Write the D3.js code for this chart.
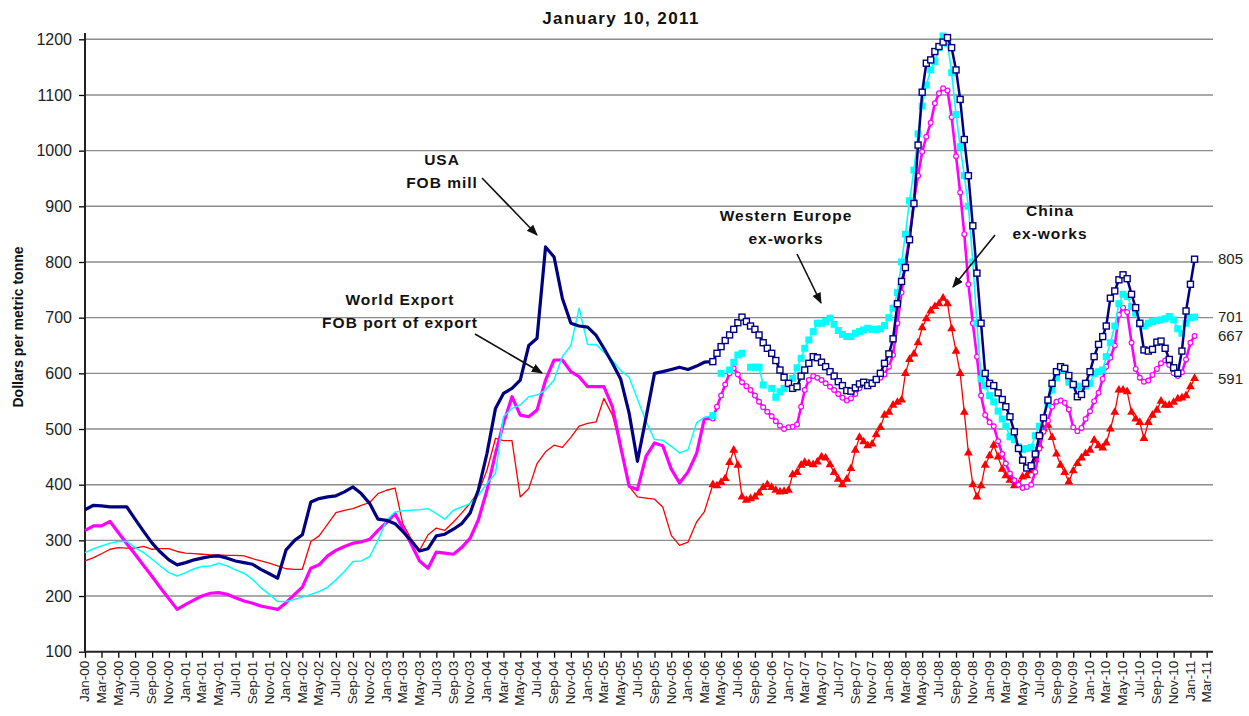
<!DOCTYPE html>
<html><head><meta charset="utf-8">
<script src="https://cdn.jsdelivr.net/npm/d3@7"></script>
<style>body{margin:0;background:#fff;} svg{display:block;font-family:"Liberation Sans",Arial,sans-serif;}</style>
</head><body><svg id="c" width="1249" height="716"></svg>
<script>
const title = "January 10, 2011";
const yTitle = "Dollars per metric tonne";
const yTicks = [100,200,300,400,500,600,700,800,900,1000,1100,1200];
// Monthly observations Jan-00 .. Mar-06 (75 months)
const monthlyCount = 75;
// Semi-monthly observations Apr-06 .. mid Jan-11 (116 points)
const semiCount = 116;

const usaMonthly = [355,363,362,360,360,360,338,316,295,279,
265,256,260,265,268,271,272,268,263,260,
257,248,240,232,283,300,310,369,375,378,
380,387,396,384,366,338,336,330,316,299,
281,285,308,311,320,330,349,391,456,537,
564,573,588,650,663,827,809,735,690,685,
683,668,645,618,590,528,442,520,600,603,
607,611,607,613,620];
const worldMonthly = [318,326,326,334,314,294,275,255,235,215,
195,176,185,193,200,205,206,203,197,191,
187,182,179,176,188,203,216,250,256,272,
282,289,295,297,302,318,332,348,322,293,
263,250,279,277,275,287,304,337,390,456,
510,558,525,522,534,588,624,624,603,594,
576,576,576,540,468,397,391,451,475,470,
428,403,423,456,518];
const chinaMonthly = [263,269,276,284,287,286,286,289,284,285,
285,280,277,276,275,274,274,273,273,272,
267,263,259,254,249,248,248,298,308,329,
350,354,357,363,368,384,390,394,330,302,
282,310,322,318,333,349,367,387,426,483,
479,479,378,393,438,459,471,467,485,505,
510,513,555,525,469,397,378,376,374,360,
309,291,297,333,351];
const europeMonthly = [278,285,290,295,298,298,287,278,266,254,
242,236,242,249,253,254,259,254,247,241,
230,215,203,190,190,194,198,203,208,216,
229,244,262,263,271,300,336,351,353,354,
355,357,348,338,354,360,366,381,402,420,
522,537,543,558,561,570,588,630,650,717,
652,652,638,623,605,593,554,514,481,480,
469,457,463,511,521];

const usaSemi = [621,636,648,659,669,679,691,701,693,685,
679,669,655,645,636,623,606,593,582,573,
576,595,606,618,630,628,620,612,603,595,
585,578,569,568,574,581,584,578,582,589,
600,618,635,662,725,765,790,840,905,1010,
1105,1157,1163,1178,1187,1195,1203,1185,1145,1092,
1020,955,865,780,690,600,582,578,565,553,
540,522,495,465,444,430,434,455,488,520,
552,582,603,612,609,596,580,558,562,582,
603,630,652,666,685,735,748,768,777,770,
742,718,690,642,640,643,656,658,645,625,
610,600,640,712,760,805];
const worldSemi = [519,540,560,580,600,609,598,584,577,570,
560,549,539,531,523,514,506,500,503,504,
508,540,570,588,595,592,588,582,576,570,
563,556,551,555,563,573,582,585,584,588,
592,598,612,633,690,745,800,845,910,955,
998,1025,1050,1085,1103,1112,1108,1060,990,925,
850,760,690,630,560,525,512,505,478,455,
438,420,408,400,394,396,400,423,465,495,
515,540,549,551,547,535,503,496,502,518,
532,550,565,590,612,628,650,705,718,710,
655,608,592,585,587,597,608,618,623,615,
600,595,602,625,655,667];
const chinaSemi = [400,398,404,411,440,462,435,378,372,375,
378,385,395,400,395,390,387,388,390,418,
422,435,440,438,436,441,450,448,436,422,
410,400,410,429,462,485,477,470,473,490,
503,525,530,543,548,552,600,625,635,655,
682,698,712,720,725,735,725,680,640,600,
530,457,400,378,398,435,452,471,450,428,
416,408,398,400,414,416,425,445,470,500,
507,485,455,435,422,405,425,438,448,456,
462,480,470,466,475,500,530,570,570,567,
530,518,512,483,512,525,534,550,543,543,
548,554,556,560,576,591];
const europeSemi = [524,null,600,null,606,620,633,636,null,611,
611,611,579,null,573,557,567,573,580,591,
610,627,645,660,675,690,690,693,699,688,
677,670,666,666,672,675,678,681,679,679,
680,686,700,717,745,800,850,910,965,1030,
1080,1118,1145,1160,1185,1206,1193,1140,1065,1007,
955,900,800,690,590,578,560,549,532,518,
505,486,481,468,463,465,467,488,505,520,
545,570,592,607,607,584,579,577,576,577,
582,600,603,606,630,655,685,725,742,738,
720,708,688,685,690,693,695,696,698,702,
696,680,672,690,700,701];

const endLabels = [
  {text:"805", value:805},
  {text:"701", value:701},
  {text:"667", value:667},
  {text:"591", value:591}
];
const notes = [
  {lines:["USA","FOB mill"], cx:442, y0:165, from:[482,178], to:[537,235]},
  {lines:["World Export","FOB port of export"], cx:400, y0:305, from:[475,334], to:[542,373]},
  {lines:["Western Europe","ex-works"], cx:786, y0:221, from:[797,254], to:[821,303]},
  {lines:["China","ex-works"], cx:1050, y0:216, from:[995,235], to:[953,287]}
];

const monthlyDates = d3.range(monthlyCount).map(i => new Date(2000, i, 1));
const semiDates = d3.range(semiCount).map(k => new Date(2000, 75 + Math.floor(k/2), (k % 2) ? 16 : 1));

const svg = d3.select("#c");
const x = d3.scaleTime().domain([new Date(2000,0,1), new Date(2011,2,24)]).range([85,1213]);
const y = d3.scaleLinear().domain([100,1200]).range([651.7,39.3]);

// gridlines
svg.append("g").selectAll("line").data(yTicks.filter(v=>v>100)).join("line")
  .attr("x1",85).attr("x2",1213).attr("y1",d=>y(d)).attr("y2",d=>y(d))
  .attr("stroke","#8c8c8c").attr("stroke-width",1.4);

// axes
const yAxis = d3.axisLeft(y).tickValues(yTicks).tickSize(6).tickPadding(7).tickFormat(d3.format("d"));
const gy = svg.append("g").attr("transform","translate(85,0)").call(yAxis);
gy.select(".domain").remove();
gy.selectAll("line").attr("stroke","#000").attr("stroke-width",1.3);
gy.selectAll("text").attr("font-size",16).attr("fill","#222").attr("font-family","Liberation Sans, Arial, sans-serif");
svg.append("line").attr("x1",85).attr("x2",85).attr("y1",33).attr("y2",652.5).attr("stroke","#222").attr("stroke-width",2);

const tickDates = d3.range(0, 135, 2).map(i => new Date(2000, i, 1));
const xAxis = d3.axisBottom(x).tickValues(tickDates).tickSize(6).tickFormat(d3.timeFormat("%b-%y"));
const gx = svg.append("g").attr("transform","translate(0,651.7)").call(xAxis);
gx.select(".domain").remove();
gx.selectAll("line").attr("stroke","#000").attr("stroke-width",1.3);
gx.selectAll("text").attr("font-size",13.5).attr("fill","#222").attr("font-family","Liberation Sans, Arial, sans-serif")
  .attr("transform","rotate(-90)").attr("text-anchor","end").attr("dy","0.35em").attr("x",-9).attr("y",-1);
svg.append("line").attr("x1",84).attr("x2",1213).attr("y1",651.7).attr("y2",651.7).attr("stroke","#222").attr("stroke-width",2);

// series
const series = [
  {m:chinaMonthly, s:chinaSemi, color:"#ff0000", wm:1.3, ws:1.3, marker:"tri"},
  {m:worldMonthly, s:worldSemi, color:"#ff00ff", wm:3.2, ws:2.6, marker:"circle"},
  {m:europeMonthly, s:europeSemi, color:"#00ffff", wm:1.5, ws:1.6, marker:"fsq"},
  {m:usaMonthly, s:usaSemi, color:"#000080", wm:3.2, ws:2.5, marker:"osq"}
];
const line = d3.line().defined(d => d.v != null).x(d => x(d.d)).y(d => y(d.v));
series.forEach(sr => {
  const mPts = sr.m.map((v,i)=>({d:monthlyDates[i], v}));
  const sPts = sr.s.map((v,i)=>({d:semiDates[i], v}));
  const join = sPts[0].v != null ? [...mPts, sPts[0]] : mPts;
  svg.append("path").datum(join).attr("d", line).attr("fill","none")
    .attr("stroke", sr.color).attr("stroke-width", sr.wm).attr("stroke-linejoin","round");
  svg.append("path").datum(sPts).attr("d", line).attr("fill","none")
    .attr("stroke", sr.color).attr("stroke-width", sr.ws).attr("stroke-linejoin","round");
  const pts = sPts.filter(p => p.v != null);
  const g = svg.append("g");
  if (sr.marker === "osq") {
    g.selectAll("rect").data(pts).join("rect")
      .attr("x", p => x(p.d)-3).attr("y", p => y(p.v)-3).attr("width",6).attr("height",6)
      .attr("fill","#fff").attr("stroke",sr.color).attr("stroke-width",1.4);
  } else if (sr.marker === "fsq") {
    g.selectAll("rect").data(pts).join("rect")
      .attr("x", p => x(p.d)-3.5).attr("y", p => y(p.v)-3.5).attr("width",7).attr("height",7)
      .attr("fill",sr.color);
  } else if (sr.marker === "circle") {
    g.selectAll("circle").data(pts).join("circle")
      .attr("cx", p => x(p.d)).attr("cy", p => y(p.v)).attr("r",2.4)
      .attr("fill","#fff").attr("stroke",sr.color).attr("stroke-width",1.2);
  } else {
    const sym = d3.symbol().type(d3.symbolTriangle).size(34);
    g.selectAll("path").data(pts).join("path")
      .attr("transform", p => `translate(${x(p.d)},${y(p.v)})`).attr("d", sym).attr("fill",sr.color);
  }
});

// title
svg.append("text").attr("x",621).attr("y",24).attr("text-anchor","middle")
  .attr("font-size",17).attr("font-weight","bold").attr("letter-spacing",1.4).attr("fill","#111").text(title);
svg.append("text").attr("transform","translate(23,327) rotate(-90)").attr("text-anchor","middle")
  .attr("font-size",14).attr("font-weight","bold").attr("fill","#111").text(yTitle);

// end labels
svg.append("g").selectAll("text").data(endLabels).join("text")
  .attr("x",1218).attr("y",d=>y(d.value)).attr("dy","0.35em")
  .attr("font-size",15).attr("fill","#222").text(d=>d.text);

// annotations
svg.append("defs").append("marker").attr("id","ah").attr("viewBox","0 0 10 10").attr("refX",9).attr("refY",5)
  .attr("markerWidth",7).attr("markerHeight",7).attr("orient","auto")
  .append("path").attr("d","M0,1 L10,5 L0,9 z").attr("fill","#111");
notes.forEach(n => {
  const t = svg.append("text").attr("text-anchor","middle").attr("font-size",15.5).attr("font-weight","bold")
    .attr("letter-spacing",1).attr("fill","#111");
  n.lines.forEach((l,i)=> t.append("tspan").attr("x",n.cx).attr("y",n.y0 + i*23).text(l));
  svg.append("line").attr("x1",n.from[0]).attr("y1",n.from[1]).attr("x2",n.to[0]).attr("y2",n.to[1])
    .attr("stroke","#111").attr("stroke-width",1.6).attr("marker-end","url(#ah)");
});
</script></body></html>
